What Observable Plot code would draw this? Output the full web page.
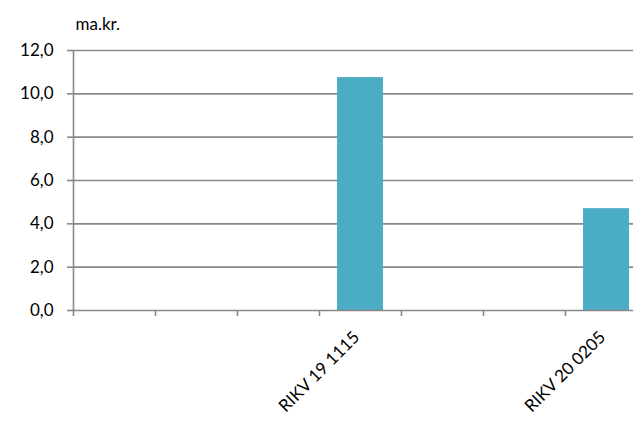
<!DOCTYPE html>
<html>
<head>
<meta charset="utf-8">
<script src="https://cdn.jsdelivr.net/npm/d3@7"></script>
<script src="https://cdn.jsdelivr.net/npm/@observablehq/plot@0.6"></script>
<style>
  html, body { margin: 0; padding: 0; background: #fff; overflow: hidden; }
  #chart svg { display: block; max-width: none !important; }
</style>
</head>
<body>
<div id="chart"></div>
<script>
const categories = ["", "", "", "RIKV 19 1115", "", "", "RIKV 20 0205"];
const values = [null, null, null, 10.75, null, null, 4.7];
const yTicks = [0, 2, 4, 6, 8, 10, 12];
const unitLabel = "ma.kr.";

const data = categories.map((c, i) => ({i, label: c, value: values[i]}));
const bars = data.filter(d => d.value != null);
const labels = data.filter(d => d.label !== "");
const boundaries = d3.range(categories.length + 1);
const grid = "#898989";
const font = "Lato, 'Open Sans', sans-serif";

const chart = Plot.plot({
  width: 650,
  height: 422,
  marginLeft: 73,
  marginRight: 3,
  marginTop: 50,
  marginBottom: 112,
  style: {fontFamily: font, fontSize: "17px", color: "#000", background: "#fff", maxWidth: "none"},
  x: {type: "linear", domain: [0, categories.length], axis: null},
  y: {type: "linear", domain: [0, 12], axis: null},
  marks: [
    Plot.gridY(yTicks.filter(d => d > 0), {stroke: grid, strokeOpacity: 1, strokeWidth: 1.6}),
    Plot.rectY(bars, {x1: d => d.i + 0.22, x2: d => d.i + 0.78, y1: 0, y2: "value", fill: "#4bacc6"}),
    Plot.ruleY([0], {stroke: grid, strokeWidth: 1.6}),
    Plot.ruleX([0], {stroke: grid, strokeWidth: 1.6}),
    Plot.axisY(yTicks, {tickSize: 6, tickPadding: 14, tickFormat: d => d.toFixed(1).replace(".", ","), stroke: grid, strokeWidth: 1.6, fontSize: 17, fill: "#000", label: null}),
    Plot.axisX(boundaries, {tickSize: 6, tickFormat: () => "", stroke: grid, strokeWidth: 1.6, label: null}),
    Plot.text(labels, {x: d => d.i + 0.5, y: 0, text: "label", rotate: -45, textAnchor: "end", dx: -4, dy: 24, fontSize: 17, fill: "#000"}),
    Plot.text([unitLabel], {frameAnchor: "top-left", textAnchor: "start", dx: 2, dy: -33, fontSize: 17, fill: "#000", letterSpacing: "0.5px"})
  ]
});
document.getElementById("chart").appendChild(chart);
</script>
</body>
</html>
